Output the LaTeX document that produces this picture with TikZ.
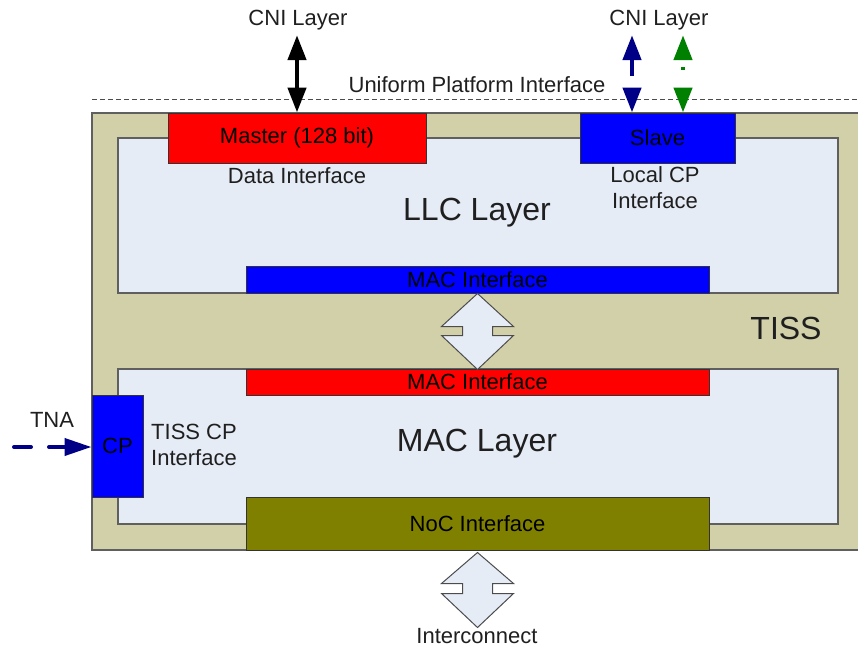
\documentclass[tikz,border=0pt]{standalone}
\usepackage{fontspec}
\setmainfont{Liberation Sans}
\usetikzlibrary{arrows.meta,calc}

\definecolor{tissbg}{RGB}{210,208,168}
\definecolor{layerbg}{RGB}{230,236,246}
\definecolor{edgegray}{RGB}{95,95,95}
\definecolor{cpnavy}{RGB}{0,0,135}
\definecolor{cpgreen}{RGB}{0,128,0}
\definecolor{nocolive}{RGB}{128,128,0}

\begin{document}
\begin{tikzpicture}[x=1pt,y=-1pt,
    txt/.style = {font=\fontsize{22}{26}\selectfont, text=black!88, inner sep=1pt, align=center},
    big/.style = {font=\fontsize{32}{34}\selectfont, text=black!88},
    layer/.style = {draw=edgegray, line width=1.5pt, fill=layerbg, inner sep=0pt},
    port/.style = {draw=black!80, line width=1pt, inner sep=0pt, text=black,
                   font=\fontsize{22}{24}\selectfont},
    cni/.style = {line width=4.5pt, shorten <=4pt,
                  {Triangle[length=25pt,width=18pt]}-{Triangle[length=25pt,width=18pt]}},
    tna/.style = {cpnavy, line width=4pt, line cap=round, dash pattern=on 17pt off 18pt,
                  -{Triangle[length=27pt,width=17pt]}},
    hollow/.style = {draw=black!70, line width=1pt, fill=layerbg, line join=miter}
  ]
  \useasboundingbox (0,0) rectangle (858,648);

  % TISS frame and platform interface
  \fill[tissbg] (92,113) rectangle (858,550);
  \draw[edgegray, line width=1.5pt] (858,113) -- (92,113) -- (92,550) -- (858,550);
  \draw[black!70, dash pattern=on 5pt off 3pt] (92,99) -- (858,99);
  \node[txt] (upi) at (477,85) {Uniform Platform Interface};
  \node[big] (tiss) at (786,328) {TISS};

  % layers
  \node[layer, minimum width=720pt, minimum height=155pt] (llc) at (478,215.5) {};
  \node[layer, minimum width=720pt, minimum height=155pt] (mac) at (478,446.5) {};
  \node[big] (llctitle) at (477,213) {LLC Layer};
  \node[big] (mactitle) at (477,444) {MAC Layer};

  % interface blocks
  \node[port, fill=red, minimum width=258pt, minimum height=50pt] (master) at (297,138) {Master (128 bit)};
  \node[port, fill=blue, minimum width=155pt, minimum height=50pt] (slave) at (657.5,138) {Slave};
  \node[port, fill=blue, minimum width=463pt, minimum height=27pt] (llcmac) at (477.5,279.5) {MAC Interface};
  \node[port, fill=red, minimum width=463pt, minimum height=26pt] (macmac) at (477.5,382) {MAC Interface};
  \node[port, fill=nocolive, minimum width=463pt, minimum height=53pt] (noc) at (477.5,523.5) {NoC Interface};
  \node[port, fill=blue, minimum width=51pt, minimum height=102pt] (cp) at (117.5,446) {CP};

  \node[txt] (dataif) at (297,176) {Data Interface};
  \node[txt] (localcp) at (655,188) {Local CP\\Interface};
  \node[txt] (tisscp) at (194,445) {TISS CP\\Interface};

  % outside connections
  \node[txt] (cnia) at (298,20) {CNI Layer};
  \node[txt] (cnib) at (659,20) {CNI Layer};
  \node[txt] (tnalabel) at (52,420) {TNA};
  \node[txt] (icon) at (477,636) {Interconnect};

  \draw[cni, black] (master.north |- cnia.south) -- (master.north);
  \draw[cni, cpnavy, dash pattern=on 17pt off 40pt]
    ([xshift=-27pt]cnib.south) -- ([xshift=-27pt]cnib.south |- slave.north);
  \draw[cni, cpgreen, dash pattern=on 0pt off 8pt on 3pt off 40pt]
    ([xshift=24pt]cnib.south) -- ([xshift=24pt]cnib.south |- slave.north);

  \coordinate (tnastart) at (14,447);
  \draw[tna] (tnastart) -- (cp.west |- tnastart);

  % hollow double arrows
  \draw[hollow] (llcmac.south) -- ++(36,33) -- ++(-21,0) -- ++(0,9) -- ++(21,0)
    -- ++(-36,34) -- ++(-36,-34) -- ++(21,0) -- ++(0,-9) -- ++(-21,0) -- cycle;
  \draw[hollow] ([yshift=-2pt]noc.south) -- ++(36,31) -- ++(-21,0) -- ++(0,10) -- ++(21,0)
    -- ++(-36,34) -- ++(-36,-34) -- ++(21,0) -- ++(0,-10) -- ++(-21,0) -- cycle;
\end{tikzpicture}
\end{document}
